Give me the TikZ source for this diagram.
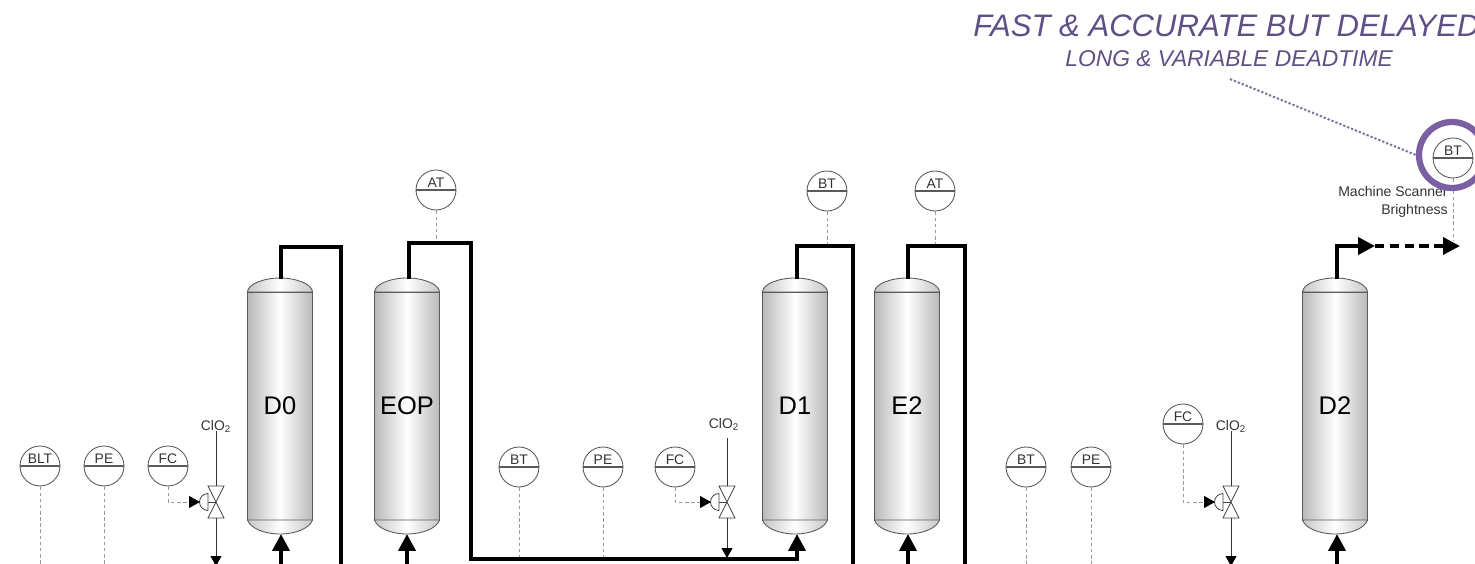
\documentclass[tikz,border=0pt]{standalone}
\usepackage{fontspec}
\setmainfont{Liberation Sans}
\usepackage{xcolor}
\usetikzlibrary{arrows.meta, calc}

\definecolor{ringpurple}{HTML}{7B5FA3}
\definecolor{notepurple}{HTML}{5F4F85}
\definecolor{edgegray}{HTML}{5A5A5A}

% one tower: name, centre x, label
\newcommand{\tower}[3]{
  \node[towerbody] (#1) at (#2, 406) {#3};
  \draw[towerdome] (#2-32.5, 292) .. controls (#2-32.5, 284) and (#2-16, 278) .. (#2, 278)
    .. controls (#2+16, 278) and (#2+32.5, 284) .. (#2+32.5, 292) -- cycle;
  \draw[towerdome] (#2-32.5, 520) .. controls (#2-30, 528) and (#2-16, 534) .. (#2, 534)
    .. controls (#2+16, 534) and (#2+30, 528) .. (#2+32.5, 520) -- cycle;
}
% one valve: name, centre x
\newcommand{\valve}[2]{
  \node[valvebody] (#1) at (#2, 502) {};
  \draw[valveline] (#2-8, 486) -- (#2+8, 486) -- (#2-8, 518) -- (#2+8, 518) -- cycle;
  \draw[valveline] (#2, 502) -- (#2-8, 502);
  \draw[valveline] (#2-8, 493.5) arc[start angle=-90, end angle=-270, radius=8.5] -- cycle;
  \coordinate (#1act) at (#2-16, 502);
}

\begin{document}
\begin{tikzpicture}[
    x=0.02cm, y=-0.02cm,
    instr/.style={circle, draw=edgegray, line width=0.5pt, fill=white, minimum size=0.8cm, inner sep=0pt,
      path picture={\draw[edgegray, line width=0.6pt] (path picture bounding box.west) -- (path picture bounding box.east);},
      label={[font=\fontsize{7.9}{9}\selectfont, text=black!80, yshift=3.9pt, inner sep=0pt]center:#1}},
    towerbody/.style={rectangle, draw=edgegray, line width=0.5pt, minimum width=1.3cm, minimum height=4.56cm, inner sep=0pt,
      left color=gray!55, right color=gray!55, middle color=white, font=\fontsize{14.5}{16}\selectfont},
    towerdome/.style={draw=edgegray, line width=0.5pt, left color=gray!45, right color=gray!45, middle color=white},
    valvebody/.style={rectangle, minimum width=0.32cm, minimum height=0.64cm, inner sep=0pt},
    valveline/.style={draw=black!75, line width=0.45pt, fill=white},
    pipe/.style={line width=0.08cm, line join=miter},
    pipetip/.style={pipe, -{Triangle[length=0.34cm, width=0.34cm]}},
    feed/.style={line width=0.45pt, draw=black!80, -{Triangle[length=0.2cm, width=0.22cm, color=black]}},
    sig/.style={draw=gray!80, line width=0.45pt, dash pattern=on 2pt off 1.5pt},
    sigtip/.style={sig, -{Triangle[length=0.22cm, width=0.24cm, color=black]}},
    tag/.style={font=\fontsize{7.9}{9}\selectfont, text=black!80, inner sep=0pt},
]
\clip (0, 0) rectangle (1475, 564);

% towers
\tower{dzero}{280}{D0}
\tower{eop}{407}{EOP}
\tower{done}{795}{D1}
\tower{etwo}{907}{E2}
\tower{dtwo}{1335}{D2}

% lower edge of the picture
\coordinate (dzerofeed) at (281, 570);
\coordinate (eopfeed) at (407, 570);
\coordinate (etwofeed) at (908, 570);
\coordinate (dtwofeed) at (1337, 570);
\coordinate (doneoutend) at (853, 570);
\coordinate (dzerooutend) at (341, 570);
\coordinate (etwooutend) at (965, 570);

% bottom inlets
\draw[pipetip] (dzerofeed) -- (281, 534);
\draw[pipetip] (eopfeed) -- (407, 534);
\draw[pipetip] (etwofeed) -- (908, 534);
\draw[pipetip] (dtwofeed) -- (1337, 534);

% overhead lines
\draw[pipe] (281, 279) -- (281, 247) -- (341, 247) -- (dzerooutend);
\draw[pipe] (908, 279) -- (908, 246) -- (965, 246) -- (etwooutend);
\draw[pipe] (797, 279) -- (797, 246) -- (853, 246) -- (doneoutend);
\coordinate (eopturn) at (471, 559);
\draw[pipetip] (409, 279) -- (409, 243) -- (471, 243) -- (eopturn) -- (797, 559) -- (797, 534);
\draw[pipetip] (1337, 279) -- (1337, 246) -- (1375, 246);
\coordinate (dtwodash) at (1375, 246);
\coordinate (scanend) at (1460, 246);
\draw[pipe, line width=0.07cm, dash pattern=on 5.4pt off 3pt] (dtwodash) -- (1444, 246);
\draw[pipetip, line width=0.07cm] (1440, 246) -- (scanend);

% instruments
\node[instr=BLT] (blt) at (40, 466) {};
\node[instr=PE] (pea) at (104, 466) {};
\node[instr=FC] (fca) at (168, 466) {};
\node[instr=BT] (bta) at (519, 467) {};
\node[instr=PE] (peb) at (603, 467) {};
\node[instr=FC] (fcb) at (675, 467) {};
\node[instr=BT] (btc) at (1026, 467) {};
\node[instr=PE] (pec) at (1091, 467) {};
\node[instr=FC] (fcc) at (1183, 424) {};
\node[instr=AT] (ata) at (436, 190) {};
\node[instr=BT] (btb) at (827, 191) {};
\node[instr=AT] (atb) at (935, 191) {};
\node[instr=BT] (btd) at (1453, 158) {};

% signal lines
\draw[sig] (blt) -- (40, 570);
\draw[sig] (pea) -- (104, 570);
\draw[sig] (bta) -- (519, 557);
\draw[sig] (peb) -- (603, 557);
\draw[sig] (btc) -- (1026, 570);
\draw[sig] (pec) -- (1091, 570);
\draw[sig] (ata) -- (436, 241);
\draw[sig] (btb) -- (827, 244);
\draw[sig] (atb) -- (935, 244);
\draw[sig] (btd) -- (1453, 240);

% valves and chemical feeds
\valve{va}{216}
\valve{vb}{727}
\valve{vc}{1231}
\draw[sigtip] (fca.south) |- (vaact);
\draw[sigtip] (fcb.south) |- (vbact);
\draw[sigtip] (fcc.south) |- (vcact);

\node[tag] (cloa) at (216, 426) {ClO\textsubscript{2}};
\node[tag] (clob) at (724, 424) {ClO\textsubscript{2}};
\node[tag] (cloc) at (1231, 426) {ClO\textsubscript{2}};
\draw[line width=0.45pt, draw=black!80] (cloa.south) ++(0, -1) -- (va.north);
\draw[line width=0.45pt, draw=black!80] (727, 438) -- (vb.north);
\draw[line width=0.45pt, draw=black!80] (cloc.south) ++(0, -1) -- (vc.north);
\draw[feed] (va.south) -- (216, 566);
\draw[feed] (vb.south) -- (727, 558);
\draw[feed] (vc.south) -- (1231, 566);

% scanner note
\node[tag, align=right, anchor=north east, font=\fontsize{8}{10.2}\selectfont] (scanner) at (1448, 186) {Machine Scanner\\Brightness};
\node[circle, draw=ringpurple, line width=0.125cm, minimum size=1.32cm, inner sep=0pt] (ring) at (1452, 155) {};
\node[anchor=base west, inner sep=0pt, text=notepurple, font=\fontsize{17.7}{19}\selectfont\itshape] (fastnote) at (973, 37) {FAST \& ACCURATE BUT DELAYED};
\node[anchor=base west, inner sep=0pt, text=notepurple, font=\fontsize{13}{15}\selectfont\itshape] (deadtime) at (1065, 67) {LONG \& VARIABLE DEADTIME};
\coordinate (dotstart) at (1230, 79);
\draw[notepurple!80, line width=0.04cm, dash pattern=on 1.3pt off 1.1pt] (dotstart) -- (ring.west);
\end{tikzpicture}
\end{document}
